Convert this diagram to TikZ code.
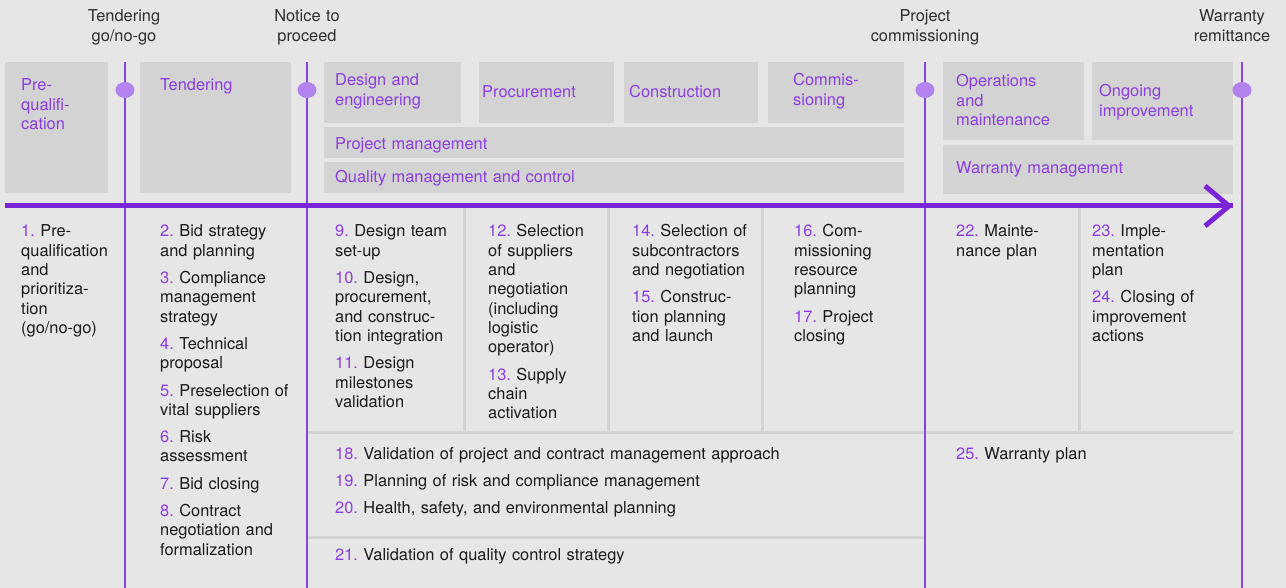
\documentclass[tikz,border=0pt]{standalone}
\usepackage{fontspec}
\setmainfont{TeX Gyre Heros}
\usetikzlibrary{calc,shapes.geometric}
\frenchspacing

\definecolor{bgc}{HTML}{E6E6E6}
\definecolor{boxgrey}{HTML}{D3D3D3}
\definecolor{sepgrey}{HTML}{D3D3D3}
\definecolor{purptxt}{HTML}{8B3DE0}
\definecolor{axispurple}{HTML}{7A24D8}
\definecolor{linepurple}{HTML}{8A45E0}
\definecolor{dotpurple}{HTML}{B283EE}
\definecolor{darktxt}{HTML}{1A1A1A}
\definecolor{miletxt}{HTML}{2E2E2E}

% purple step number in front of an activity
\newcommand\inum[1]{\textcolor{purptxt}{#1.}}

\begin{document}
\begin{tikzpicture}[x=1pt,y=-1pt,
  basefont/.style={font=\fontsize{16.4}{19.3}\selectfont},
  phasebox/.style={fill=boxgrey, draw=none, inner sep=0, anchor=north west},
  phasetxt/.style={basefont, text=purptxt, align=left, text width=300pt, inner sep=0, anchor=base west},
  itemtxt/.style={basefont, text=darktxt, align=left, text width=160pt, inner sep=0, anchor=base west},
  miletext/.style={basefont, text=miletxt, align=center, text width=160pt, inner sep=0, anchor=base},
  mline/.style={draw=linepurple, line width=1.5pt},
  mdot/.style={ellipse, fill=dotpurple, draw=none, minimum width=19pt, minimum height=16pt, inner sep=0},
  axisline/.style={draw=axispurple, line width=5pt},
  sepline/.style={draw=sepgrey, line width=3pt},
]
% canvas
\fill[bgc] (0,0) rectangle (1286,588);
\useasboundingbox (0,0) rectangle (1286,588);

% ---- phase boxes ----
\node[phasebox, minimum width=103pt, minimum height=131pt] (preq) at (5,62) {};
\node[phasebox, minimum width=151pt, minimum height=131pt] (tend) at (140,62) {};
\node[phasebox, minimum width=137pt, minimum height=61pt] (design) at (324,62) {};
\node[phasebox, minimum width=135pt, minimum height=61pt] (procure) at (479,62) {};
\node[phasebox, minimum width=134pt, minimum height=61pt] (constr) at (624,62) {};
\node[phasebox, minimum width=136pt, minimum height=61pt] (commis) at (768,62) {};
\node[phasebox, minimum width=580pt, minimum height=31pt] (pm) at (324,127) {};
\node[phasebox, minimum width=580pt, minimum height=31pt] (qm) at (324,162) {};
\node[phasebox, minimum width=141pt, minimum height=78pt] (ops) at (943,62) {};
\node[phasebox, minimum width=141pt, minimum height=78pt] (ongo) at (1092,62) {};
\node[phasebox, minimum width=290pt, minimum height=49pt] (warr) at (943,145) {};

% ---- phase labels ----
\node[phasetxt] (tpreq) at (21,91) {Pre-\\qualifi-\\cation};
\node[phasetxt] (ttend) at (160,91) {Tendering};
\node[phasetxt] (tdesign) at (335,86) {Design and\\engineering};
\node[phasetxt] (tprocure) at (482,98) {Procurement};
\node[phasetxt] (tconstr) at (629,98) {Construction};
\node[phasetxt] (tcommis) at (793,86) {Commis-\\sioning};
\node[phasetxt] (tpm) at (335,150) {Project management};
\node[phasetxt] (tqm) at (335,183) {Quality management and control};
\node[phasetxt] (tops) at (956,87) {Operations\\and\\maintenance};
\node[phasetxt] (tongo) at (1099,97) {Ongoing\\improvement};
\node[phasetxt] (twarr) at (956,174) {Warranty management};

% ---- grey cell separators ----
\coordinate (s1t) at (464,208); \coordinate (s1b) at (464,431);
\coordinate (s2t) at (608,208); \coordinate (s2b) at (608,431);
\coordinate (s3t) at (762,208); \coordinate (s3b) at (762,431);
\coordinate (s4t) at (1079,208); \coordinate (s4b) at (1079,431);
\coordinate (h1l) at (307,432); \coordinate (h1r) at (1233,432);
\coordinate (h2l) at (307,537); \coordinate (h2r) at (925,537);
\draw[sepline] (s1t) -- (s1b);
\draw[sepline] (s2t) -- (s2b);
\draw[sepline] (s3t) -- (s3b);
\draw[sepline] (s4t) -- (s4b);
\draw[sepline] (h1l) -- (h1r);
\draw[sepline] (h2l) -- (h2r);

% ---- milestone lines, dots and labels ----
\foreach \n/\x in {1/125, 2/307, 3/925, 4/1242}{
  \coordinate (mt\n) at (\x,62);
  \coordinate (mb\n) at (\x,588);
  \draw[mline] (mt\n) -- (mb\n);
  \node[mdot] (md\n) at (\x,90) {};
}
\node[miletext] (ml1) at (124,22) {Tendering\\go/no-go};
\node[miletext] (ml2) at (307,22) {Notice to\\proceed};
\node[miletext] (ml3) at (925,22) {Project\\commissioning};
\node[miletext] (ml4) at (1232,22) {Warranty\\remittance};

% ---- time axis ----
\coordinate (ax0) at (5,206);
\coordinate (ax1) at (1233,206);
\coordinate (tip) at (1229,206);
\draw[axisline] (ax0) -- (ax1);
\draw[axisline, line join=miter] ($(tip)+(-24,-20)$) -- (tip) -- ($(tip)+(-24,20)$);

% ---- activities ----
\node[itemtxt] (c1) at (21,237) {\inum{1} Pre-\\qualification\\and\\prioritiza-\\tion\\(go/no-go)};
\node[itemtxt] (c2) at (160,237) {\inum{2} Bid strategy\\and planning\\[8pt]\inum{3} Compliance\\management\\strategy\\[8pt]\inum{4} Technical\\proposal\\[8pt]\inum{5} Preselection of\\vital suppliers\\[8pt]\inum{6} Risk\\assessment\\[8pt]\inum{7} Bid closing\\[8pt]\inum{8} Contract\\negotiation and\\formalization};
\node[itemtxt] (c3) at (335,237) {\inum{9} Design team\\set-up\\[8pt]\inum{10} Design,\\procurement,\\and construc-\\tion integration\\[8pt]\inum{11} Design\\milestones\\validation};
\node[itemtxt] (c4) at (488,237) {\inum{12} Selection\\of suppliers\\and\\negotiation\\(including\\logistic\\operator)\\[8pt]\inum{13} Supply\\chain\\activation};
\node[itemtxt] (c5) at (632,237) {\inum{14} Selection of\\subcontractors\\and negotiation\\[8pt]\inum{15} Construc-\\tion planning\\and launch};
\node[itemtxt] (c6) at (794,237) {\inum{16} Com-\\missioning\\resource\\planning\\[8pt]\inum{17} Project\\closing};
\node[itemtxt] (c7) at (956,237) {\inum{22} Mainte-\\nance plan};
\node[itemtxt] (c8) at (1092,237) {\inum{23} Imple-\\mentation\\plan\\[8pt]\inum{24} Closing of\\improvement\\actions};
\node[itemtxt, text width=520pt] (r1) at (335,459) {\inum{18} Validation of project and contract management approach\\[8pt]\inum{19} Planning of risk and compliance management\\[8pt]\inum{20} Health, safety, and environmental planning};
\node[itemtxt, text width=400pt] (r2) at (335,560) {\inum{21} Validation of quality control strategy};
\node[itemtxt] (r3) at (956,459) {\inum{25} Warranty plan};
\end{tikzpicture}
\end{document}
